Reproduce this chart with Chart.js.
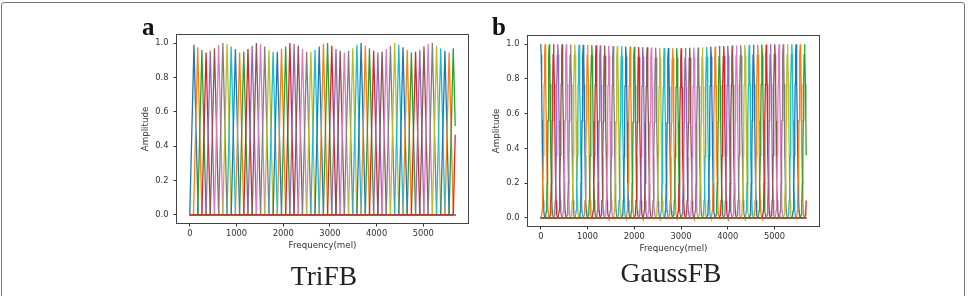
<!DOCTYPE html>
<html><head><meta charset="utf-8">
<script src="https://cdn.jsdelivr.net/npm/chart.js@4"></script>
<style>
html,body{margin:0;padding:0;background:#fff;}
#wrap{position:relative;width:972px;height:296px;overflow:hidden;background:#fff;}
#frame{position:absolute;left:1px;top:2px;width:962px;height:330px;border:1px solid #777;border-radius:3px;}
canvas{position:absolute;left:0;top:0;}
.lbl{position:absolute;font-family:"Liberation Serif",serif;font-weight:bold;font-size:25px;color:#111;line-height:1;}
.ttl{position:absolute;font-family:"Liberation Serif",serif;font-size:27.5px;color:#222;line-height:1;transform:translateX(-50%);white-space:nowrap;}
</style></head>
<body><div id="wrap"><div id="frame"></div>
<canvas id="ca" width="972" height="296"></canvas>
<canvas id="cb" width="972" height="296"></canvas>
<div class="lbl" style="left:142px;top:14px">a</div>
<div class="lbl" style="left:492px;top:14px">b</div>
<div class="ttl" style="left:324px;top:262px">TriFB</div>
<div class="ttl" style="left:671px;top:259px">GaussFB</div>
</div>
<script>
const tab10 = ['#1f77b4','#ff7f0e','#2ca02c','#d62728','#9467bd','#8c564b','#e377c2','#7f7f7f','#bcbd22','#17becf'];
const xTickValues = [0,1000,2000,3000,4000,5000];
const yTickValues = [0,0.2,0.4,0.6,0.8,1.0];

// TriFB: filter centres (mel), peak heights, triangle shape (offset mel, relative value)
const triCenters = [90,170,259,349,439,529,618,708,798,887,977,1067,1156,1246,1336,1426,1515,1605,1695,1784,1874,1964,2053,2143,2233,2323,2412,2502,2592,2681,2771,2861,2950,3040,3130,3220,3309,3399,3489,3578,3668,3758,3847,3937,4027,4117,4206,4296,4386,4475,4565,4655,4744,4834,4924,5014,5103,5193,5283,5372,5462,5552,5641,5731];
const triPeaks = [0.99,0.975,0.96,0.945,0.955,0.97,0.99,1.0,0.995,0.98,0.965,0.945,0.95,0.965,0.985,1.0,0.995,0.98,0.96,0.95,0.95,0.965,0.98,1.0,0.995,0.985,0.965,0.95,0.95,0.96,0.98,0.995,1.0,0.985,0.965,0.955,0.945,0.955,0.97,0.99,1.0,0.985,0.97,0.955,0.945,0.95,0.965,0.985,1.0,0.99,0.975,0.96,0.945,0.95,0.96,0.98,0.995,1.0,0.985,0.97,0.955,0.945,0.97,1.0];
const triShapeOffsets = [-90,0,90];
const triShapeValues = [0,1,0];
const triEnd = 5683;

// GaussFB
const gaussCenters = [0,91,182,273,364,455,546,637,728,819,910,1001,1092,1183,1274,1365,1456,1547,1638,1729,1820,1911,2002,2093,2184,2275,2366,2457,2548,2639,2730,2821,2912,3003,3094,3185,3276,3367,3458,3549,3640,3731,3822,3913,4004,4095,4186,4277,4368,4459,4550,4641,4732,4823,4914,5005,5096,5187,5278,5369,5460,5551,5642,5733];
const gaussPeaks = [1.0,1.0,1.0,1.0,0.999,0.999,0.999,0.998,0.998,0.997,0.997,0.996,0.995,0.994,0.993,0.992,0.991,0.99,0.989,0.988,0.987,0.986,0.985,0.984,0.983,0.982,0.981,0.98,0.979,0.978,0.978,0.977,0.977,0.977,0.978,0.979,0.98,0.981,0.983,0.984,0.986,0.987,0.989,0.99,0.991,0.992,0.993,0.994,0.995,0.996,0.997,0.997,0.998,0.998,0.999,0.999,0.999,1.0,1.0,1.0,1.0,1.0,1.0,1.0];
const gaussShapeOffsets = [-91,-73,-64,-55,-45,-36,-27,-18,-9,0,9,18,27,36,45,55,64,73,91];
const gaussShapeValues = [0,0.017,0.04,0.1,0.2,0.36,0.56,0.77,0.94,1,0.94,0.77,0.56,0.36,0.2,0.1,0.04,0.017,0];
const gaussEnd = 5678;

function buildFilter(center, peak, offs, vals, xEnd){
  const raw = offs.map((o,k)=>({x:center+o, y:peak*vals[k]}));
  const pts = [];
  for (let k=0;k<raw.length;k++){
    const p = raw[k];
    if (p.x>=0 && p.x<=xEnd) pts.push(p);
    if (k<raw.length-1){
      const q = raw[k+1];
      for (const b of [0,xEnd]){
        if (p.x<b && q.x>b){ const t=(b-p.x)/(q.x-p.x); pts.push({x:b,y:p.y+t*(q.y-p.y)}); }
      }
    }
  }
  if (!pts.length || pts[0].x>0) pts.unshift({x:0,y:0});
  if (pts[pts.length-1].x<xEnd) pts.push({x:xEnd,y:0});
  return pts;
}
function buildSets(centers, peaks, offs, vals, xEnd){
  const n = centers.length;
  return centers.map((c,i)=>({
    data: buildFilter(c, peaks[i], offs, vals, xEnd),
    borderColor: tab10[i%10], backgroundColor: tab10[i%10],
    borderWidth: 1.3, pointRadius: 0, fill: false, tension: 0,
    order: n-1-i
  }));
}
const framePlugin = {
  id:'frame',
  afterDraw(chart){
    const {ctx, chartArea:a} = chart;
    ctx.save(); ctx.strokeStyle='#444'; ctx.lineWidth=1;
    ctx.strokeRect(a.left, a.top, a.right-a.left, a.bottom-a.top);
    ctx.restore();
  }
};
function makeChart(id, datasets, area, xMin, xMax){
  const tickFont = {family:'DejaVu Sans', size:8.3};
  const titleFont = {family:'DejaVu Sans', size:8.7};
  return new Chart(document.getElementById(id), {
    type:'line',
    data:{datasets},
    options:{
      responsive:false, animation:false, events:[],
      layout:{padding:{left:area.left-40, right:972-area.right, top:area.top, bottom:296-area.bottom-40}},
      plugins:{legend:{display:false}, tooltip:{enabled:false}},
      scales:{
        x:{type:'linear', min:xMin, max:xMax,
          afterFit(s){ s.height=40; },
          afterBuildTicks(s){ s.ticks = xTickValues.map(v=>({value:v})); },
          grid:{display:true, drawOnChartArea:false, drawTicks:true, tickLength:3, tickColor:'#333', tickWidth:1},
          border:{display:false},
          ticks:{font:tickFont, color:'#333', padding:2, maxRotation:0, autoSkip:false, callback:v=>String(v)},
          title:{display:true, text:'Frequency(mel)', font:titleFont, color:'#333', padding:{top:0,bottom:13}}
        },
        y:{type:'linear', min:-0.05, max:1.05,
          afterFit(s){ s.width=40; },
          afterBuildTicks(s){ s.ticks = yTickValues.map(v=>({value:v})); },
          grid:{display:true, drawOnChartArea:false, drawTicks:true, tickLength:3, tickColor:'#333', tickWidth:1},
          border:{display:false},
          ticks:{font:tickFont, color:'#333', padding:5, autoSkip:false, callback:v=>Number(v).toFixed(1)},
          title:{display:true, text:'Amplitude', font:titleFont, color:'#333', padding:{top:4.5,bottom:0}}
        }
      }
    },
    plugins:[framePlugin]
  });
}
makeChart('ca', buildSets(triCenters, triPeaks, triShapeOffsets, triShapeValues, triEnd),
  {left:176.5, right:468.5, top:34.5, bottom:223.5}, -284, 5967);
makeChart('cb', buildSets(gaussCenters, gaussPeaks, gaussShapeOffsets, gaussShapeValues, gaussEnd),
  {left:527.5, right:819.5, top:35.5, bottom:226.5}, -284, 5962);
</script>
</body></html>
